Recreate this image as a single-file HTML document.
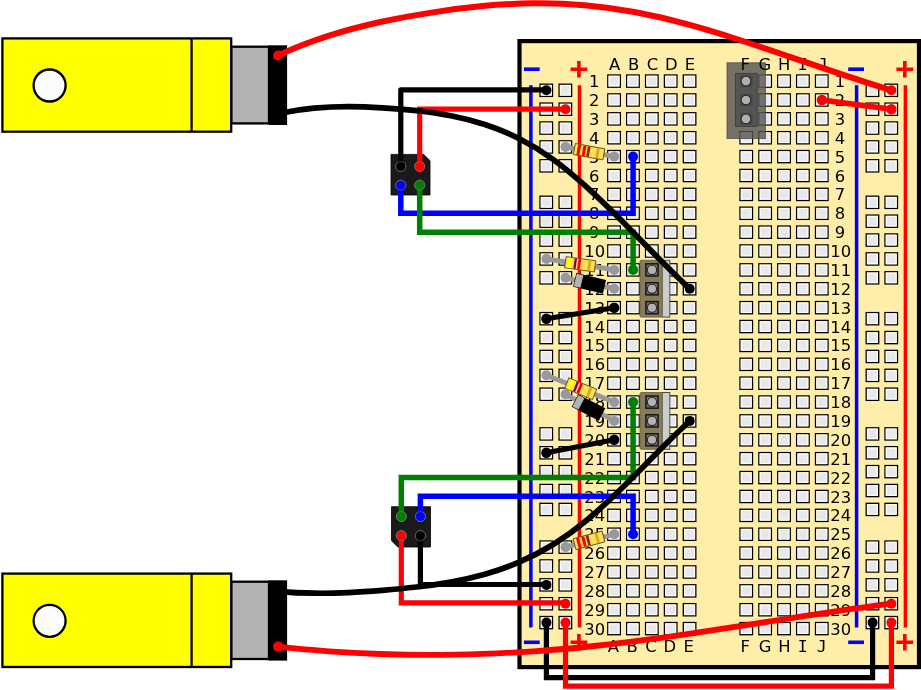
<!DOCTYPE html>
<html lang="en">
<head>
<meta charset="utf-8">
<title>Breadboard wiring diagram</title>
<style>
html,body{margin:0;padding:0;background:#fff;}
body{width:921px;height:690px;overflow:hidden;font-family:"DejaVu Sans","Liberation Sans",sans-serif;}
svg{display:block;will-change:transform;}
</style>
</head>
<body>
<svg width="921" height="690" viewBox="0 0 921 690">
<rect x="0" y="0" width="921" height="690" fill="#ffffff"/>
<g id="motors">
<rect x="268.6" y="45.3" width="18.5" height="79.7" fill="#000"/>
<rect x="231.2" y="46.7" width="37.8" height="76.7" fill="#b3b3b3" stroke="#000" stroke-width="2.3"/>
<rect x="2.4" y="38.4" width="228.8" height="93.3" fill="#ffff00" stroke="#000" stroke-width="2.3"/>
<line x1="191.6" y1="38.4" x2="191.6" y2="131.7" stroke="#000" stroke-width="2.3"/>
<circle cx="49.6" cy="85.5" r="16.0" fill="#fcfcfc" stroke="#000" stroke-width="2.3"/>
<rect x="268.6" y="580.3" width="18.5" height="80.3" fill="#000"/>
<rect x="231.2" y="581.7" width="37.8" height="77.3" fill="#b3b3b3" stroke="#000" stroke-width="2.3"/>
<rect x="2.4" y="573.6" width="228.8" height="93.4" fill="#ffff00" stroke="#000" stroke-width="2.3"/>
<line x1="191.6" y1="573.6" x2="191.6" y2="667.0" stroke="#000" stroke-width="2.3"/>
<circle cx="49.6" cy="620.8" r="16.0" fill="#fcfcfc" stroke="#000" stroke-width="2.3"/>
</g>
<g id="board">
<rect x="519.5" y="41.1" width="399.5" height="626" fill="#ffeeaa" stroke="#000" stroke-width="4.2"/>
<line x1="530.9" y1="85.3" x2="530.9" y2="627.4" stroke="#0000ff" stroke-width="3.5"/>
<line x1="579.5" y1="85.3" x2="579.5" y2="627.4" stroke="#ff0000" stroke-width="3.5"/>
<line x1="856.6" y1="85.3" x2="856.6" y2="627.4" stroke="#0000ff" stroke-width="3.5"/>
<line x1="905.4" y1="85.3" x2="905.4" y2="627.4" stroke="#ff0000" stroke-width="3.5"/>
<line x1="523.9" y1="69.2" x2="539.7" y2="69.2" stroke="#0000ff" stroke-width="3.6"/>
<path d="M570.5 69.2H587.3M578.9 61.0V77.4" stroke="#ff0000" stroke-width="3.6" fill="none"/>
<line x1="848.2" y1="69.2" x2="864.0" y2="69.2" stroke="#0000ff" stroke-width="3.6"/>
<path d="M896.4 69.2H913.2M904.8 61.0V77.4" stroke="#ff0000" stroke-width="3.6" fill="none"/>
<line x1="523.9" y1="642.3" x2="539.7" y2="642.3" stroke="#0000ff" stroke-width="3.6"/>
<path d="M570.5 642.3H587.3M578.9 634.1V650.5" stroke="#ff0000" stroke-width="3.6" fill="none"/>
<line x1="848.2" y1="642.3" x2="864.0" y2="642.3" stroke="#0000ff" stroke-width="3.6"/>
<path d="M896.4 642.3H913.2M904.8 634.1V650.5" stroke="#ff0000" stroke-width="3.6" fill="none"/>
<g fill="#e8e8e8" stroke="#000" stroke-width="1.35">
<rect x="607.80" y="75.00" width="12.5" height="12.2"/>
<rect x="626.68" y="75.00" width="12.5" height="12.2"/>
<rect x="645.56" y="75.00" width="12.5" height="12.2"/>
<rect x="664.44" y="75.00" width="12.5" height="12.2"/>
<rect x="683.32" y="75.00" width="12.5" height="12.2"/>
<rect x="740.00" y="75.00" width="12.5" height="12.2"/>
<rect x="758.88" y="75.00" width="12.5" height="12.2"/>
<rect x="777.76" y="75.00" width="12.5" height="12.2"/>
<rect x="796.64" y="75.00" width="12.5" height="12.2"/>
<rect x="815.52" y="75.00" width="12.5" height="12.2"/>
<rect x="607.80" y="93.88" width="12.5" height="12.2"/>
<rect x="626.68" y="93.88" width="12.5" height="12.2"/>
<rect x="645.56" y="93.88" width="12.5" height="12.2"/>
<rect x="664.44" y="93.88" width="12.5" height="12.2"/>
<rect x="683.32" y="93.88" width="12.5" height="12.2"/>
<rect x="740.00" y="93.88" width="12.5" height="12.2"/>
<rect x="758.88" y="93.88" width="12.5" height="12.2"/>
<rect x="777.76" y="93.88" width="12.5" height="12.2"/>
<rect x="796.64" y="93.88" width="12.5" height="12.2"/>
<rect x="815.52" y="93.88" width="12.5" height="12.2"/>
<rect x="607.80" y="112.76" width="12.5" height="12.2"/>
<rect x="626.68" y="112.76" width="12.5" height="12.2"/>
<rect x="645.56" y="112.76" width="12.5" height="12.2"/>
<rect x="664.44" y="112.76" width="12.5" height="12.2"/>
<rect x="683.32" y="112.76" width="12.5" height="12.2"/>
<rect x="740.00" y="112.76" width="12.5" height="12.2"/>
<rect x="758.88" y="112.76" width="12.5" height="12.2"/>
<rect x="777.76" y="112.76" width="12.5" height="12.2"/>
<rect x="796.64" y="112.76" width="12.5" height="12.2"/>
<rect x="815.52" y="112.76" width="12.5" height="12.2"/>
<rect x="607.80" y="131.64" width="12.5" height="12.2"/>
<rect x="626.68" y="131.64" width="12.5" height="12.2"/>
<rect x="645.56" y="131.64" width="12.5" height="12.2"/>
<rect x="664.44" y="131.64" width="12.5" height="12.2"/>
<rect x="683.32" y="131.64" width="12.5" height="12.2"/>
<rect x="740.00" y="131.64" width="12.5" height="12.2"/>
<rect x="758.88" y="131.64" width="12.5" height="12.2"/>
<rect x="777.76" y="131.64" width="12.5" height="12.2"/>
<rect x="796.64" y="131.64" width="12.5" height="12.2"/>
<rect x="815.52" y="131.64" width="12.5" height="12.2"/>
<rect x="607.80" y="150.52" width="12.5" height="12.2"/>
<rect x="626.68" y="150.52" width="12.5" height="12.2"/>
<rect x="645.56" y="150.52" width="12.5" height="12.2"/>
<rect x="664.44" y="150.52" width="12.5" height="12.2"/>
<rect x="683.32" y="150.52" width="12.5" height="12.2"/>
<rect x="740.00" y="150.52" width="12.5" height="12.2"/>
<rect x="758.88" y="150.52" width="12.5" height="12.2"/>
<rect x="777.76" y="150.52" width="12.5" height="12.2"/>
<rect x="796.64" y="150.52" width="12.5" height="12.2"/>
<rect x="815.52" y="150.52" width="12.5" height="12.2"/>
<rect x="607.80" y="169.40" width="12.5" height="12.2"/>
<rect x="626.68" y="169.40" width="12.5" height="12.2"/>
<rect x="645.56" y="169.40" width="12.5" height="12.2"/>
<rect x="664.44" y="169.40" width="12.5" height="12.2"/>
<rect x="683.32" y="169.40" width="12.5" height="12.2"/>
<rect x="740.00" y="169.40" width="12.5" height="12.2"/>
<rect x="758.88" y="169.40" width="12.5" height="12.2"/>
<rect x="777.76" y="169.40" width="12.5" height="12.2"/>
<rect x="796.64" y="169.40" width="12.5" height="12.2"/>
<rect x="815.52" y="169.40" width="12.5" height="12.2"/>
<rect x="607.80" y="188.28" width="12.5" height="12.2"/>
<rect x="626.68" y="188.28" width="12.5" height="12.2"/>
<rect x="645.56" y="188.28" width="12.5" height="12.2"/>
<rect x="664.44" y="188.28" width="12.5" height="12.2"/>
<rect x="683.32" y="188.28" width="12.5" height="12.2"/>
<rect x="740.00" y="188.28" width="12.5" height="12.2"/>
<rect x="758.88" y="188.28" width="12.5" height="12.2"/>
<rect x="777.76" y="188.28" width="12.5" height="12.2"/>
<rect x="796.64" y="188.28" width="12.5" height="12.2"/>
<rect x="815.52" y="188.28" width="12.5" height="12.2"/>
<rect x="607.80" y="207.16" width="12.5" height="12.2"/>
<rect x="626.68" y="207.16" width="12.5" height="12.2"/>
<rect x="645.56" y="207.16" width="12.5" height="12.2"/>
<rect x="664.44" y="207.16" width="12.5" height="12.2"/>
<rect x="683.32" y="207.16" width="12.5" height="12.2"/>
<rect x="740.00" y="207.16" width="12.5" height="12.2"/>
<rect x="758.88" y="207.16" width="12.5" height="12.2"/>
<rect x="777.76" y="207.16" width="12.5" height="12.2"/>
<rect x="796.64" y="207.16" width="12.5" height="12.2"/>
<rect x="815.52" y="207.16" width="12.5" height="12.2"/>
<rect x="607.80" y="226.04" width="12.5" height="12.2"/>
<rect x="626.68" y="226.04" width="12.5" height="12.2"/>
<rect x="645.56" y="226.04" width="12.5" height="12.2"/>
<rect x="664.44" y="226.04" width="12.5" height="12.2"/>
<rect x="683.32" y="226.04" width="12.5" height="12.2"/>
<rect x="740.00" y="226.04" width="12.5" height="12.2"/>
<rect x="758.88" y="226.04" width="12.5" height="12.2"/>
<rect x="777.76" y="226.04" width="12.5" height="12.2"/>
<rect x="796.64" y="226.04" width="12.5" height="12.2"/>
<rect x="815.52" y="226.04" width="12.5" height="12.2"/>
<rect x="607.80" y="244.92" width="12.5" height="12.2"/>
<rect x="626.68" y="244.92" width="12.5" height="12.2"/>
<rect x="645.56" y="244.92" width="12.5" height="12.2"/>
<rect x="664.44" y="244.92" width="12.5" height="12.2"/>
<rect x="683.32" y="244.92" width="12.5" height="12.2"/>
<rect x="740.00" y="244.92" width="12.5" height="12.2"/>
<rect x="758.88" y="244.92" width="12.5" height="12.2"/>
<rect x="777.76" y="244.92" width="12.5" height="12.2"/>
<rect x="796.64" y="244.92" width="12.5" height="12.2"/>
<rect x="815.52" y="244.92" width="12.5" height="12.2"/>
<rect x="607.80" y="263.80" width="12.5" height="12.2"/>
<rect x="626.68" y="263.80" width="12.5" height="12.2"/>
<rect x="645.56" y="263.80" width="12.5" height="12.2"/>
<rect x="664.44" y="263.80" width="12.5" height="12.2"/>
<rect x="683.32" y="263.80" width="12.5" height="12.2"/>
<rect x="740.00" y="263.80" width="12.5" height="12.2"/>
<rect x="758.88" y="263.80" width="12.5" height="12.2"/>
<rect x="777.76" y="263.80" width="12.5" height="12.2"/>
<rect x="796.64" y="263.80" width="12.5" height="12.2"/>
<rect x="815.52" y="263.80" width="12.5" height="12.2"/>
<rect x="607.80" y="282.68" width="12.5" height="12.2"/>
<rect x="626.68" y="282.68" width="12.5" height="12.2"/>
<rect x="645.56" y="282.68" width="12.5" height="12.2"/>
<rect x="664.44" y="282.68" width="12.5" height="12.2"/>
<rect x="683.32" y="282.68" width="12.5" height="12.2"/>
<rect x="740.00" y="282.68" width="12.5" height="12.2"/>
<rect x="758.88" y="282.68" width="12.5" height="12.2"/>
<rect x="777.76" y="282.68" width="12.5" height="12.2"/>
<rect x="796.64" y="282.68" width="12.5" height="12.2"/>
<rect x="815.52" y="282.68" width="12.5" height="12.2"/>
<rect x="607.80" y="301.56" width="12.5" height="12.2"/>
<rect x="626.68" y="301.56" width="12.5" height="12.2"/>
<rect x="645.56" y="301.56" width="12.5" height="12.2"/>
<rect x="664.44" y="301.56" width="12.5" height="12.2"/>
<rect x="683.32" y="301.56" width="12.5" height="12.2"/>
<rect x="740.00" y="301.56" width="12.5" height="12.2"/>
<rect x="758.88" y="301.56" width="12.5" height="12.2"/>
<rect x="777.76" y="301.56" width="12.5" height="12.2"/>
<rect x="796.64" y="301.56" width="12.5" height="12.2"/>
<rect x="815.52" y="301.56" width="12.5" height="12.2"/>
<rect x="607.80" y="320.44" width="12.5" height="12.2"/>
<rect x="626.68" y="320.44" width="12.5" height="12.2"/>
<rect x="645.56" y="320.44" width="12.5" height="12.2"/>
<rect x="664.44" y="320.44" width="12.5" height="12.2"/>
<rect x="683.32" y="320.44" width="12.5" height="12.2"/>
<rect x="740.00" y="320.44" width="12.5" height="12.2"/>
<rect x="758.88" y="320.44" width="12.5" height="12.2"/>
<rect x="777.76" y="320.44" width="12.5" height="12.2"/>
<rect x="796.64" y="320.44" width="12.5" height="12.2"/>
<rect x="815.52" y="320.44" width="12.5" height="12.2"/>
<rect x="607.80" y="339.32" width="12.5" height="12.2"/>
<rect x="626.68" y="339.32" width="12.5" height="12.2"/>
<rect x="645.56" y="339.32" width="12.5" height="12.2"/>
<rect x="664.44" y="339.32" width="12.5" height="12.2"/>
<rect x="683.32" y="339.32" width="12.5" height="12.2"/>
<rect x="740.00" y="339.32" width="12.5" height="12.2"/>
<rect x="758.88" y="339.32" width="12.5" height="12.2"/>
<rect x="777.76" y="339.32" width="12.5" height="12.2"/>
<rect x="796.64" y="339.32" width="12.5" height="12.2"/>
<rect x="815.52" y="339.32" width="12.5" height="12.2"/>
<rect x="607.80" y="358.20" width="12.5" height="12.2"/>
<rect x="626.68" y="358.20" width="12.5" height="12.2"/>
<rect x="645.56" y="358.20" width="12.5" height="12.2"/>
<rect x="664.44" y="358.20" width="12.5" height="12.2"/>
<rect x="683.32" y="358.20" width="12.5" height="12.2"/>
<rect x="740.00" y="358.20" width="12.5" height="12.2"/>
<rect x="758.88" y="358.20" width="12.5" height="12.2"/>
<rect x="777.76" y="358.20" width="12.5" height="12.2"/>
<rect x="796.64" y="358.20" width="12.5" height="12.2"/>
<rect x="815.52" y="358.20" width="12.5" height="12.2"/>
<rect x="607.80" y="377.08" width="12.5" height="12.2"/>
<rect x="626.68" y="377.08" width="12.5" height="12.2"/>
<rect x="645.56" y="377.08" width="12.5" height="12.2"/>
<rect x="664.44" y="377.08" width="12.5" height="12.2"/>
<rect x="683.32" y="377.08" width="12.5" height="12.2"/>
<rect x="740.00" y="377.08" width="12.5" height="12.2"/>
<rect x="758.88" y="377.08" width="12.5" height="12.2"/>
<rect x="777.76" y="377.08" width="12.5" height="12.2"/>
<rect x="796.64" y="377.08" width="12.5" height="12.2"/>
<rect x="815.52" y="377.08" width="12.5" height="12.2"/>
<rect x="607.80" y="395.96" width="12.5" height="12.2"/>
<rect x="626.68" y="395.96" width="12.5" height="12.2"/>
<rect x="645.56" y="395.96" width="12.5" height="12.2"/>
<rect x="664.44" y="395.96" width="12.5" height="12.2"/>
<rect x="683.32" y="395.96" width="12.5" height="12.2"/>
<rect x="740.00" y="395.96" width="12.5" height="12.2"/>
<rect x="758.88" y="395.96" width="12.5" height="12.2"/>
<rect x="777.76" y="395.96" width="12.5" height="12.2"/>
<rect x="796.64" y="395.96" width="12.5" height="12.2"/>
<rect x="815.52" y="395.96" width="12.5" height="12.2"/>
<rect x="607.80" y="414.84" width="12.5" height="12.2"/>
<rect x="626.68" y="414.84" width="12.5" height="12.2"/>
<rect x="645.56" y="414.84" width="12.5" height="12.2"/>
<rect x="664.44" y="414.84" width="12.5" height="12.2"/>
<rect x="683.32" y="414.84" width="12.5" height="12.2"/>
<rect x="740.00" y="414.84" width="12.5" height="12.2"/>
<rect x="758.88" y="414.84" width="12.5" height="12.2"/>
<rect x="777.76" y="414.84" width="12.5" height="12.2"/>
<rect x="796.64" y="414.84" width="12.5" height="12.2"/>
<rect x="815.52" y="414.84" width="12.5" height="12.2"/>
<rect x="607.80" y="433.72" width="12.5" height="12.2"/>
<rect x="626.68" y="433.72" width="12.5" height="12.2"/>
<rect x="645.56" y="433.72" width="12.5" height="12.2"/>
<rect x="664.44" y="433.72" width="12.5" height="12.2"/>
<rect x="683.32" y="433.72" width="12.5" height="12.2"/>
<rect x="740.00" y="433.72" width="12.5" height="12.2"/>
<rect x="758.88" y="433.72" width="12.5" height="12.2"/>
<rect x="777.76" y="433.72" width="12.5" height="12.2"/>
<rect x="796.64" y="433.72" width="12.5" height="12.2"/>
<rect x="815.52" y="433.72" width="12.5" height="12.2"/>
<rect x="607.80" y="452.60" width="12.5" height="12.2"/>
<rect x="626.68" y="452.60" width="12.5" height="12.2"/>
<rect x="645.56" y="452.60" width="12.5" height="12.2"/>
<rect x="664.44" y="452.60" width="12.5" height="12.2"/>
<rect x="683.32" y="452.60" width="12.5" height="12.2"/>
<rect x="740.00" y="452.60" width="12.5" height="12.2"/>
<rect x="758.88" y="452.60" width="12.5" height="12.2"/>
<rect x="777.76" y="452.60" width="12.5" height="12.2"/>
<rect x="796.64" y="452.60" width="12.5" height="12.2"/>
<rect x="815.52" y="452.60" width="12.5" height="12.2"/>
<rect x="607.80" y="471.48" width="12.5" height="12.2"/>
<rect x="626.68" y="471.48" width="12.5" height="12.2"/>
<rect x="645.56" y="471.48" width="12.5" height="12.2"/>
<rect x="664.44" y="471.48" width="12.5" height="12.2"/>
<rect x="683.32" y="471.48" width="12.5" height="12.2"/>
<rect x="740.00" y="471.48" width="12.5" height="12.2"/>
<rect x="758.88" y="471.48" width="12.5" height="12.2"/>
<rect x="777.76" y="471.48" width="12.5" height="12.2"/>
<rect x="796.64" y="471.48" width="12.5" height="12.2"/>
<rect x="815.52" y="471.48" width="12.5" height="12.2"/>
<rect x="607.80" y="490.36" width="12.5" height="12.2"/>
<rect x="626.68" y="490.36" width="12.5" height="12.2"/>
<rect x="645.56" y="490.36" width="12.5" height="12.2"/>
<rect x="664.44" y="490.36" width="12.5" height="12.2"/>
<rect x="683.32" y="490.36" width="12.5" height="12.2"/>
<rect x="740.00" y="490.36" width="12.5" height="12.2"/>
<rect x="758.88" y="490.36" width="12.5" height="12.2"/>
<rect x="777.76" y="490.36" width="12.5" height="12.2"/>
<rect x="796.64" y="490.36" width="12.5" height="12.2"/>
<rect x="815.52" y="490.36" width="12.5" height="12.2"/>
<rect x="607.80" y="509.24" width="12.5" height="12.2"/>
<rect x="626.68" y="509.24" width="12.5" height="12.2"/>
<rect x="645.56" y="509.24" width="12.5" height="12.2"/>
<rect x="664.44" y="509.24" width="12.5" height="12.2"/>
<rect x="683.32" y="509.24" width="12.5" height="12.2"/>
<rect x="740.00" y="509.24" width="12.5" height="12.2"/>
<rect x="758.88" y="509.24" width="12.5" height="12.2"/>
<rect x="777.76" y="509.24" width="12.5" height="12.2"/>
<rect x="796.64" y="509.24" width="12.5" height="12.2"/>
<rect x="815.52" y="509.24" width="12.5" height="12.2"/>
<rect x="607.80" y="528.12" width="12.5" height="12.2"/>
<rect x="626.68" y="528.12" width="12.5" height="12.2"/>
<rect x="645.56" y="528.12" width="12.5" height="12.2"/>
<rect x="664.44" y="528.12" width="12.5" height="12.2"/>
<rect x="683.32" y="528.12" width="12.5" height="12.2"/>
<rect x="740.00" y="528.12" width="12.5" height="12.2"/>
<rect x="758.88" y="528.12" width="12.5" height="12.2"/>
<rect x="777.76" y="528.12" width="12.5" height="12.2"/>
<rect x="796.64" y="528.12" width="12.5" height="12.2"/>
<rect x="815.52" y="528.12" width="12.5" height="12.2"/>
<rect x="607.80" y="547.00" width="12.5" height="12.2"/>
<rect x="626.68" y="547.00" width="12.5" height="12.2"/>
<rect x="645.56" y="547.00" width="12.5" height="12.2"/>
<rect x="664.44" y="547.00" width="12.5" height="12.2"/>
<rect x="683.32" y="547.00" width="12.5" height="12.2"/>
<rect x="740.00" y="547.00" width="12.5" height="12.2"/>
<rect x="758.88" y="547.00" width="12.5" height="12.2"/>
<rect x="777.76" y="547.00" width="12.5" height="12.2"/>
<rect x="796.64" y="547.00" width="12.5" height="12.2"/>
<rect x="815.52" y="547.00" width="12.5" height="12.2"/>
<rect x="607.80" y="565.88" width="12.5" height="12.2"/>
<rect x="626.68" y="565.88" width="12.5" height="12.2"/>
<rect x="645.56" y="565.88" width="12.5" height="12.2"/>
<rect x="664.44" y="565.88" width="12.5" height="12.2"/>
<rect x="683.32" y="565.88" width="12.5" height="12.2"/>
<rect x="740.00" y="565.88" width="12.5" height="12.2"/>
<rect x="758.88" y="565.88" width="12.5" height="12.2"/>
<rect x="777.76" y="565.88" width="12.5" height="12.2"/>
<rect x="796.64" y="565.88" width="12.5" height="12.2"/>
<rect x="815.52" y="565.88" width="12.5" height="12.2"/>
<rect x="607.80" y="584.76" width="12.5" height="12.2"/>
<rect x="626.68" y="584.76" width="12.5" height="12.2"/>
<rect x="645.56" y="584.76" width="12.5" height="12.2"/>
<rect x="664.44" y="584.76" width="12.5" height="12.2"/>
<rect x="683.32" y="584.76" width="12.5" height="12.2"/>
<rect x="740.00" y="584.76" width="12.5" height="12.2"/>
<rect x="758.88" y="584.76" width="12.5" height="12.2"/>
<rect x="777.76" y="584.76" width="12.5" height="12.2"/>
<rect x="796.64" y="584.76" width="12.5" height="12.2"/>
<rect x="815.52" y="584.76" width="12.5" height="12.2"/>
<rect x="607.80" y="603.64" width="12.5" height="12.2"/>
<rect x="626.68" y="603.64" width="12.5" height="12.2"/>
<rect x="645.56" y="603.64" width="12.5" height="12.2"/>
<rect x="664.44" y="603.64" width="12.5" height="12.2"/>
<rect x="683.32" y="603.64" width="12.5" height="12.2"/>
<rect x="740.00" y="603.64" width="12.5" height="12.2"/>
<rect x="758.88" y="603.64" width="12.5" height="12.2"/>
<rect x="777.76" y="603.64" width="12.5" height="12.2"/>
<rect x="796.64" y="603.64" width="12.5" height="12.2"/>
<rect x="815.52" y="603.64" width="12.5" height="12.2"/>
<rect x="607.80" y="622.52" width="12.5" height="12.2"/>
<rect x="626.68" y="622.52" width="12.5" height="12.2"/>
<rect x="645.56" y="622.52" width="12.5" height="12.2"/>
<rect x="664.44" y="622.52" width="12.5" height="12.2"/>
<rect x="683.32" y="622.52" width="12.5" height="12.2"/>
<rect x="740.00" y="622.52" width="12.5" height="12.2"/>
<rect x="758.88" y="622.52" width="12.5" height="12.2"/>
<rect x="777.76" y="622.52" width="12.5" height="12.2"/>
<rect x="796.64" y="622.52" width="12.5" height="12.2"/>
<rect x="815.52" y="622.52" width="12.5" height="12.2"/>
<rect x="540.00" y="84.20" width="12.5" height="12.2"/>
<rect x="559.10" y="84.20" width="12.5" height="12.2"/>
<rect x="866.20" y="84.20" width="12.5" height="12.2"/>
<rect x="885.00" y="84.20" width="12.5" height="12.2"/>
<rect x="540.00" y="103.08" width="12.5" height="12.2"/>
<rect x="559.10" y="103.08" width="12.5" height="12.2"/>
<rect x="866.20" y="103.08" width="12.5" height="12.2"/>
<rect x="885.00" y="103.08" width="12.5" height="12.2"/>
<rect x="540.00" y="121.96" width="12.5" height="12.2"/>
<rect x="559.10" y="121.96" width="12.5" height="12.2"/>
<rect x="866.20" y="121.96" width="12.5" height="12.2"/>
<rect x="885.00" y="121.96" width="12.5" height="12.2"/>
<rect x="540.00" y="140.84" width="12.5" height="12.2"/>
<rect x="559.10" y="140.84" width="12.5" height="12.2"/>
<rect x="866.20" y="140.84" width="12.5" height="12.2"/>
<rect x="885.00" y="140.84" width="12.5" height="12.2"/>
<rect x="540.00" y="159.72" width="12.5" height="12.2"/>
<rect x="559.10" y="159.72" width="12.5" height="12.2"/>
<rect x="866.20" y="159.72" width="12.5" height="12.2"/>
<rect x="885.00" y="159.72" width="12.5" height="12.2"/>
<rect x="540.00" y="196.20" width="12.5" height="12.2"/>
<rect x="559.10" y="196.20" width="12.5" height="12.2"/>
<rect x="866.20" y="196.20" width="12.5" height="12.2"/>
<rect x="885.00" y="196.20" width="12.5" height="12.2"/>
<rect x="540.00" y="215.08" width="12.5" height="12.2"/>
<rect x="559.10" y="215.08" width="12.5" height="12.2"/>
<rect x="866.20" y="215.08" width="12.5" height="12.2"/>
<rect x="885.00" y="215.08" width="12.5" height="12.2"/>
<rect x="540.00" y="233.96" width="12.5" height="12.2"/>
<rect x="559.10" y="233.96" width="12.5" height="12.2"/>
<rect x="866.20" y="233.96" width="12.5" height="12.2"/>
<rect x="885.00" y="233.96" width="12.5" height="12.2"/>
<rect x="540.00" y="252.84" width="12.5" height="12.2"/>
<rect x="559.10" y="252.84" width="12.5" height="12.2"/>
<rect x="866.20" y="252.84" width="12.5" height="12.2"/>
<rect x="885.00" y="252.84" width="12.5" height="12.2"/>
<rect x="540.00" y="271.72" width="12.5" height="12.2"/>
<rect x="559.10" y="271.72" width="12.5" height="12.2"/>
<rect x="866.20" y="271.72" width="12.5" height="12.2"/>
<rect x="885.00" y="271.72" width="12.5" height="12.2"/>
<rect x="540.00" y="312.60" width="12.5" height="12.2"/>
<rect x="559.10" y="312.60" width="12.5" height="12.2"/>
<rect x="866.20" y="312.60" width="12.5" height="12.2"/>
<rect x="885.00" y="312.60" width="12.5" height="12.2"/>
<rect x="540.00" y="331.48" width="12.5" height="12.2"/>
<rect x="559.10" y="331.48" width="12.5" height="12.2"/>
<rect x="866.20" y="331.48" width="12.5" height="12.2"/>
<rect x="885.00" y="331.48" width="12.5" height="12.2"/>
<rect x="540.00" y="350.36" width="12.5" height="12.2"/>
<rect x="559.10" y="350.36" width="12.5" height="12.2"/>
<rect x="866.20" y="350.36" width="12.5" height="12.2"/>
<rect x="885.00" y="350.36" width="12.5" height="12.2"/>
<rect x="540.00" y="369.24" width="12.5" height="12.2"/>
<rect x="559.10" y="369.24" width="12.5" height="12.2"/>
<rect x="866.20" y="369.24" width="12.5" height="12.2"/>
<rect x="885.00" y="369.24" width="12.5" height="12.2"/>
<rect x="540.00" y="388.12" width="12.5" height="12.2"/>
<rect x="559.10" y="388.12" width="12.5" height="12.2"/>
<rect x="866.20" y="388.12" width="12.5" height="12.2"/>
<rect x="885.00" y="388.12" width="12.5" height="12.2"/>
<rect x="540.00" y="427.80" width="12.5" height="12.2"/>
<rect x="559.10" y="427.80" width="12.5" height="12.2"/>
<rect x="866.20" y="427.80" width="12.5" height="12.2"/>
<rect x="885.00" y="427.80" width="12.5" height="12.2"/>
<rect x="540.00" y="446.68" width="12.5" height="12.2"/>
<rect x="559.10" y="446.68" width="12.5" height="12.2"/>
<rect x="866.20" y="446.68" width="12.5" height="12.2"/>
<rect x="885.00" y="446.68" width="12.5" height="12.2"/>
<rect x="540.00" y="465.56" width="12.5" height="12.2"/>
<rect x="559.10" y="465.56" width="12.5" height="12.2"/>
<rect x="866.20" y="465.56" width="12.5" height="12.2"/>
<rect x="885.00" y="465.56" width="12.5" height="12.2"/>
<rect x="540.00" y="484.44" width="12.5" height="12.2"/>
<rect x="559.10" y="484.44" width="12.5" height="12.2"/>
<rect x="866.20" y="484.44" width="12.5" height="12.2"/>
<rect x="885.00" y="484.44" width="12.5" height="12.2"/>
<rect x="540.00" y="503.32" width="12.5" height="12.2"/>
<rect x="559.10" y="503.32" width="12.5" height="12.2"/>
<rect x="866.20" y="503.32" width="12.5" height="12.2"/>
<rect x="885.00" y="503.32" width="12.5" height="12.2"/>
<rect x="540.00" y="541.00" width="12.5" height="12.2"/>
<rect x="559.10" y="541.00" width="12.5" height="12.2"/>
<rect x="866.20" y="541.00" width="12.5" height="12.2"/>
<rect x="885.00" y="541.00" width="12.5" height="12.2"/>
<rect x="540.00" y="559.88" width="12.5" height="12.2"/>
<rect x="559.10" y="559.88" width="12.5" height="12.2"/>
<rect x="866.20" y="559.88" width="12.5" height="12.2"/>
<rect x="885.00" y="559.88" width="12.5" height="12.2"/>
<rect x="540.00" y="578.76" width="12.5" height="12.2"/>
<rect x="559.10" y="578.76" width="12.5" height="12.2"/>
<rect x="866.20" y="578.76" width="12.5" height="12.2"/>
<rect x="885.00" y="578.76" width="12.5" height="12.2"/>
<rect x="540.00" y="597.64" width="12.5" height="12.2"/>
<rect x="559.10" y="597.64" width="12.5" height="12.2"/>
<rect x="866.20" y="597.64" width="12.5" height="12.2"/>
<rect x="885.00" y="597.64" width="12.5" height="12.2"/>
<rect x="540.00" y="616.52" width="12.5" height="12.2"/>
<rect x="559.10" y="616.52" width="12.5" height="12.2"/>
<rect x="866.20" y="616.52" width="12.5" height="12.2"/>
<rect x="885.00" y="616.52" width="12.5" height="12.2"/>
</g>
<g fill="none" stroke="#ffffff" stroke-width="1.2" stroke-opacity="0.85">
<rect x="609.10" y="76.30" width="9.9" height="9.6"/>
<rect x="627.98" y="76.30" width="9.9" height="9.6"/>
<rect x="646.86" y="76.30" width="9.9" height="9.6"/>
<rect x="665.74" y="76.30" width="9.9" height="9.6"/>
<rect x="684.62" y="76.30" width="9.9" height="9.6"/>
<rect x="741.30" y="76.30" width="9.9" height="9.6"/>
<rect x="760.18" y="76.30" width="9.9" height="9.6"/>
<rect x="779.06" y="76.30" width="9.9" height="9.6"/>
<rect x="797.94" y="76.30" width="9.9" height="9.6"/>
<rect x="816.82" y="76.30" width="9.9" height="9.6"/>
<rect x="609.10" y="95.18" width="9.9" height="9.6"/>
<rect x="627.98" y="95.18" width="9.9" height="9.6"/>
<rect x="646.86" y="95.18" width="9.9" height="9.6"/>
<rect x="665.74" y="95.18" width="9.9" height="9.6"/>
<rect x="684.62" y="95.18" width="9.9" height="9.6"/>
<rect x="741.30" y="95.18" width="9.9" height="9.6"/>
<rect x="760.18" y="95.18" width="9.9" height="9.6"/>
<rect x="779.06" y="95.18" width="9.9" height="9.6"/>
<rect x="797.94" y="95.18" width="9.9" height="9.6"/>
<rect x="816.82" y="95.18" width="9.9" height="9.6"/>
<rect x="609.10" y="114.06" width="9.9" height="9.6"/>
<rect x="627.98" y="114.06" width="9.9" height="9.6"/>
<rect x="646.86" y="114.06" width="9.9" height="9.6"/>
<rect x="665.74" y="114.06" width="9.9" height="9.6"/>
<rect x="684.62" y="114.06" width="9.9" height="9.6"/>
<rect x="741.30" y="114.06" width="9.9" height="9.6"/>
<rect x="760.18" y="114.06" width="9.9" height="9.6"/>
<rect x="779.06" y="114.06" width="9.9" height="9.6"/>
<rect x="797.94" y="114.06" width="9.9" height="9.6"/>
<rect x="816.82" y="114.06" width="9.9" height="9.6"/>
<rect x="609.10" y="132.94" width="9.9" height="9.6"/>
<rect x="627.98" y="132.94" width="9.9" height="9.6"/>
<rect x="646.86" y="132.94" width="9.9" height="9.6"/>
<rect x="665.74" y="132.94" width="9.9" height="9.6"/>
<rect x="684.62" y="132.94" width="9.9" height="9.6"/>
<rect x="741.30" y="132.94" width="9.9" height="9.6"/>
<rect x="760.18" y="132.94" width="9.9" height="9.6"/>
<rect x="779.06" y="132.94" width="9.9" height="9.6"/>
<rect x="797.94" y="132.94" width="9.9" height="9.6"/>
<rect x="816.82" y="132.94" width="9.9" height="9.6"/>
<rect x="609.10" y="151.82" width="9.9" height="9.6"/>
<rect x="627.98" y="151.82" width="9.9" height="9.6"/>
<rect x="646.86" y="151.82" width="9.9" height="9.6"/>
<rect x="665.74" y="151.82" width="9.9" height="9.6"/>
<rect x="684.62" y="151.82" width="9.9" height="9.6"/>
<rect x="741.30" y="151.82" width="9.9" height="9.6"/>
<rect x="760.18" y="151.82" width="9.9" height="9.6"/>
<rect x="779.06" y="151.82" width="9.9" height="9.6"/>
<rect x="797.94" y="151.82" width="9.9" height="9.6"/>
<rect x="816.82" y="151.82" width="9.9" height="9.6"/>
<rect x="609.10" y="170.70" width="9.9" height="9.6"/>
<rect x="627.98" y="170.70" width="9.9" height="9.6"/>
<rect x="646.86" y="170.70" width="9.9" height="9.6"/>
<rect x="665.74" y="170.70" width="9.9" height="9.6"/>
<rect x="684.62" y="170.70" width="9.9" height="9.6"/>
<rect x="741.30" y="170.70" width="9.9" height="9.6"/>
<rect x="760.18" y="170.70" width="9.9" height="9.6"/>
<rect x="779.06" y="170.70" width="9.9" height="9.6"/>
<rect x="797.94" y="170.70" width="9.9" height="9.6"/>
<rect x="816.82" y="170.70" width="9.9" height="9.6"/>
<rect x="609.10" y="189.58" width="9.9" height="9.6"/>
<rect x="627.98" y="189.58" width="9.9" height="9.6"/>
<rect x="646.86" y="189.58" width="9.9" height="9.6"/>
<rect x="665.74" y="189.58" width="9.9" height="9.6"/>
<rect x="684.62" y="189.58" width="9.9" height="9.6"/>
<rect x="741.30" y="189.58" width="9.9" height="9.6"/>
<rect x="760.18" y="189.58" width="9.9" height="9.6"/>
<rect x="779.06" y="189.58" width="9.9" height="9.6"/>
<rect x="797.94" y="189.58" width="9.9" height="9.6"/>
<rect x="816.82" y="189.58" width="9.9" height="9.6"/>
<rect x="609.10" y="208.46" width="9.9" height="9.6"/>
<rect x="627.98" y="208.46" width="9.9" height="9.6"/>
<rect x="646.86" y="208.46" width="9.9" height="9.6"/>
<rect x="665.74" y="208.46" width="9.9" height="9.6"/>
<rect x="684.62" y="208.46" width="9.9" height="9.6"/>
<rect x="741.30" y="208.46" width="9.9" height="9.6"/>
<rect x="760.18" y="208.46" width="9.9" height="9.6"/>
<rect x="779.06" y="208.46" width="9.9" height="9.6"/>
<rect x="797.94" y="208.46" width="9.9" height="9.6"/>
<rect x="816.82" y="208.46" width="9.9" height="9.6"/>
<rect x="609.10" y="227.34" width="9.9" height="9.6"/>
<rect x="627.98" y="227.34" width="9.9" height="9.6"/>
<rect x="646.86" y="227.34" width="9.9" height="9.6"/>
<rect x="665.74" y="227.34" width="9.9" height="9.6"/>
<rect x="684.62" y="227.34" width="9.9" height="9.6"/>
<rect x="741.30" y="227.34" width="9.9" height="9.6"/>
<rect x="760.18" y="227.34" width="9.9" height="9.6"/>
<rect x="779.06" y="227.34" width="9.9" height="9.6"/>
<rect x="797.94" y="227.34" width="9.9" height="9.6"/>
<rect x="816.82" y="227.34" width="9.9" height="9.6"/>
<rect x="609.10" y="246.22" width="9.9" height="9.6"/>
<rect x="627.98" y="246.22" width="9.9" height="9.6"/>
<rect x="646.86" y="246.22" width="9.9" height="9.6"/>
<rect x="665.74" y="246.22" width="9.9" height="9.6"/>
<rect x="684.62" y="246.22" width="9.9" height="9.6"/>
<rect x="741.30" y="246.22" width="9.9" height="9.6"/>
<rect x="760.18" y="246.22" width="9.9" height="9.6"/>
<rect x="779.06" y="246.22" width="9.9" height="9.6"/>
<rect x="797.94" y="246.22" width="9.9" height="9.6"/>
<rect x="816.82" y="246.22" width="9.9" height="9.6"/>
<rect x="609.10" y="265.10" width="9.9" height="9.6"/>
<rect x="627.98" y="265.10" width="9.9" height="9.6"/>
<rect x="646.86" y="265.10" width="9.9" height="9.6"/>
<rect x="665.74" y="265.10" width="9.9" height="9.6"/>
<rect x="684.62" y="265.10" width="9.9" height="9.6"/>
<rect x="741.30" y="265.10" width="9.9" height="9.6"/>
<rect x="760.18" y="265.10" width="9.9" height="9.6"/>
<rect x="779.06" y="265.10" width="9.9" height="9.6"/>
<rect x="797.94" y="265.10" width="9.9" height="9.6"/>
<rect x="816.82" y="265.10" width="9.9" height="9.6"/>
<rect x="609.10" y="283.98" width="9.9" height="9.6"/>
<rect x="627.98" y="283.98" width="9.9" height="9.6"/>
<rect x="646.86" y="283.98" width="9.9" height="9.6"/>
<rect x="665.74" y="283.98" width="9.9" height="9.6"/>
<rect x="684.62" y="283.98" width="9.9" height="9.6"/>
<rect x="741.30" y="283.98" width="9.9" height="9.6"/>
<rect x="760.18" y="283.98" width="9.9" height="9.6"/>
<rect x="779.06" y="283.98" width="9.9" height="9.6"/>
<rect x="797.94" y="283.98" width="9.9" height="9.6"/>
<rect x="816.82" y="283.98" width="9.9" height="9.6"/>
<rect x="609.10" y="302.86" width="9.9" height="9.6"/>
<rect x="627.98" y="302.86" width="9.9" height="9.6"/>
<rect x="646.86" y="302.86" width="9.9" height="9.6"/>
<rect x="665.74" y="302.86" width="9.9" height="9.6"/>
<rect x="684.62" y="302.86" width="9.9" height="9.6"/>
<rect x="741.30" y="302.86" width="9.9" height="9.6"/>
<rect x="760.18" y="302.86" width="9.9" height="9.6"/>
<rect x="779.06" y="302.86" width="9.9" height="9.6"/>
<rect x="797.94" y="302.86" width="9.9" height="9.6"/>
<rect x="816.82" y="302.86" width="9.9" height="9.6"/>
<rect x="609.10" y="321.74" width="9.9" height="9.6"/>
<rect x="627.98" y="321.74" width="9.9" height="9.6"/>
<rect x="646.86" y="321.74" width="9.9" height="9.6"/>
<rect x="665.74" y="321.74" width="9.9" height="9.6"/>
<rect x="684.62" y="321.74" width="9.9" height="9.6"/>
<rect x="741.30" y="321.74" width="9.9" height="9.6"/>
<rect x="760.18" y="321.74" width="9.9" height="9.6"/>
<rect x="779.06" y="321.74" width="9.9" height="9.6"/>
<rect x="797.94" y="321.74" width="9.9" height="9.6"/>
<rect x="816.82" y="321.74" width="9.9" height="9.6"/>
<rect x="609.10" y="340.62" width="9.9" height="9.6"/>
<rect x="627.98" y="340.62" width="9.9" height="9.6"/>
<rect x="646.86" y="340.62" width="9.9" height="9.6"/>
<rect x="665.74" y="340.62" width="9.9" height="9.6"/>
<rect x="684.62" y="340.62" width="9.9" height="9.6"/>
<rect x="741.30" y="340.62" width="9.9" height="9.6"/>
<rect x="760.18" y="340.62" width="9.9" height="9.6"/>
<rect x="779.06" y="340.62" width="9.9" height="9.6"/>
<rect x="797.94" y="340.62" width="9.9" height="9.6"/>
<rect x="816.82" y="340.62" width="9.9" height="9.6"/>
<rect x="609.10" y="359.50" width="9.9" height="9.6"/>
<rect x="627.98" y="359.50" width="9.9" height="9.6"/>
<rect x="646.86" y="359.50" width="9.9" height="9.6"/>
<rect x="665.74" y="359.50" width="9.9" height="9.6"/>
<rect x="684.62" y="359.50" width="9.9" height="9.6"/>
<rect x="741.30" y="359.50" width="9.9" height="9.6"/>
<rect x="760.18" y="359.50" width="9.9" height="9.6"/>
<rect x="779.06" y="359.50" width="9.9" height="9.6"/>
<rect x="797.94" y="359.50" width="9.9" height="9.6"/>
<rect x="816.82" y="359.50" width="9.9" height="9.6"/>
<rect x="609.10" y="378.38" width="9.9" height="9.6"/>
<rect x="627.98" y="378.38" width="9.9" height="9.6"/>
<rect x="646.86" y="378.38" width="9.9" height="9.6"/>
<rect x="665.74" y="378.38" width="9.9" height="9.6"/>
<rect x="684.62" y="378.38" width="9.9" height="9.6"/>
<rect x="741.30" y="378.38" width="9.9" height="9.6"/>
<rect x="760.18" y="378.38" width="9.9" height="9.6"/>
<rect x="779.06" y="378.38" width="9.9" height="9.6"/>
<rect x="797.94" y="378.38" width="9.9" height="9.6"/>
<rect x="816.82" y="378.38" width="9.9" height="9.6"/>
<rect x="609.10" y="397.26" width="9.9" height="9.6"/>
<rect x="627.98" y="397.26" width="9.9" height="9.6"/>
<rect x="646.86" y="397.26" width="9.9" height="9.6"/>
<rect x="665.74" y="397.26" width="9.9" height="9.6"/>
<rect x="684.62" y="397.26" width="9.9" height="9.6"/>
<rect x="741.30" y="397.26" width="9.9" height="9.6"/>
<rect x="760.18" y="397.26" width="9.9" height="9.6"/>
<rect x="779.06" y="397.26" width="9.9" height="9.6"/>
<rect x="797.94" y="397.26" width="9.9" height="9.6"/>
<rect x="816.82" y="397.26" width="9.9" height="9.6"/>
<rect x="609.10" y="416.14" width="9.9" height="9.6"/>
<rect x="627.98" y="416.14" width="9.9" height="9.6"/>
<rect x="646.86" y="416.14" width="9.9" height="9.6"/>
<rect x="665.74" y="416.14" width="9.9" height="9.6"/>
<rect x="684.62" y="416.14" width="9.9" height="9.6"/>
<rect x="741.30" y="416.14" width="9.9" height="9.6"/>
<rect x="760.18" y="416.14" width="9.9" height="9.6"/>
<rect x="779.06" y="416.14" width="9.9" height="9.6"/>
<rect x="797.94" y="416.14" width="9.9" height="9.6"/>
<rect x="816.82" y="416.14" width="9.9" height="9.6"/>
<rect x="609.10" y="435.02" width="9.9" height="9.6"/>
<rect x="627.98" y="435.02" width="9.9" height="9.6"/>
<rect x="646.86" y="435.02" width="9.9" height="9.6"/>
<rect x="665.74" y="435.02" width="9.9" height="9.6"/>
<rect x="684.62" y="435.02" width="9.9" height="9.6"/>
<rect x="741.30" y="435.02" width="9.9" height="9.6"/>
<rect x="760.18" y="435.02" width="9.9" height="9.6"/>
<rect x="779.06" y="435.02" width="9.9" height="9.6"/>
<rect x="797.94" y="435.02" width="9.9" height="9.6"/>
<rect x="816.82" y="435.02" width="9.9" height="9.6"/>
<rect x="609.10" y="453.90" width="9.9" height="9.6"/>
<rect x="627.98" y="453.90" width="9.9" height="9.6"/>
<rect x="646.86" y="453.90" width="9.9" height="9.6"/>
<rect x="665.74" y="453.90" width="9.9" height="9.6"/>
<rect x="684.62" y="453.90" width="9.9" height="9.6"/>
<rect x="741.30" y="453.90" width="9.9" height="9.6"/>
<rect x="760.18" y="453.90" width="9.9" height="9.6"/>
<rect x="779.06" y="453.90" width="9.9" height="9.6"/>
<rect x="797.94" y="453.90" width="9.9" height="9.6"/>
<rect x="816.82" y="453.90" width="9.9" height="9.6"/>
<rect x="609.10" y="472.78" width="9.9" height="9.6"/>
<rect x="627.98" y="472.78" width="9.9" height="9.6"/>
<rect x="646.86" y="472.78" width="9.9" height="9.6"/>
<rect x="665.74" y="472.78" width="9.9" height="9.6"/>
<rect x="684.62" y="472.78" width="9.9" height="9.6"/>
<rect x="741.30" y="472.78" width="9.9" height="9.6"/>
<rect x="760.18" y="472.78" width="9.9" height="9.6"/>
<rect x="779.06" y="472.78" width="9.9" height="9.6"/>
<rect x="797.94" y="472.78" width="9.9" height="9.6"/>
<rect x="816.82" y="472.78" width="9.9" height="9.6"/>
<rect x="609.10" y="491.66" width="9.9" height="9.6"/>
<rect x="627.98" y="491.66" width="9.9" height="9.6"/>
<rect x="646.86" y="491.66" width="9.9" height="9.6"/>
<rect x="665.74" y="491.66" width="9.9" height="9.6"/>
<rect x="684.62" y="491.66" width="9.9" height="9.6"/>
<rect x="741.30" y="491.66" width="9.9" height="9.6"/>
<rect x="760.18" y="491.66" width="9.9" height="9.6"/>
<rect x="779.06" y="491.66" width="9.9" height="9.6"/>
<rect x="797.94" y="491.66" width="9.9" height="9.6"/>
<rect x="816.82" y="491.66" width="9.9" height="9.6"/>
<rect x="609.10" y="510.54" width="9.9" height="9.6"/>
<rect x="627.98" y="510.54" width="9.9" height="9.6"/>
<rect x="646.86" y="510.54" width="9.9" height="9.6"/>
<rect x="665.74" y="510.54" width="9.9" height="9.6"/>
<rect x="684.62" y="510.54" width="9.9" height="9.6"/>
<rect x="741.30" y="510.54" width="9.9" height="9.6"/>
<rect x="760.18" y="510.54" width="9.9" height="9.6"/>
<rect x="779.06" y="510.54" width="9.9" height="9.6"/>
<rect x="797.94" y="510.54" width="9.9" height="9.6"/>
<rect x="816.82" y="510.54" width="9.9" height="9.6"/>
<rect x="609.10" y="529.42" width="9.9" height="9.6"/>
<rect x="627.98" y="529.42" width="9.9" height="9.6"/>
<rect x="646.86" y="529.42" width="9.9" height="9.6"/>
<rect x="665.74" y="529.42" width="9.9" height="9.6"/>
<rect x="684.62" y="529.42" width="9.9" height="9.6"/>
<rect x="741.30" y="529.42" width="9.9" height="9.6"/>
<rect x="760.18" y="529.42" width="9.9" height="9.6"/>
<rect x="779.06" y="529.42" width="9.9" height="9.6"/>
<rect x="797.94" y="529.42" width="9.9" height="9.6"/>
<rect x="816.82" y="529.42" width="9.9" height="9.6"/>
<rect x="609.10" y="548.30" width="9.9" height="9.6"/>
<rect x="627.98" y="548.30" width="9.9" height="9.6"/>
<rect x="646.86" y="548.30" width="9.9" height="9.6"/>
<rect x="665.74" y="548.30" width="9.9" height="9.6"/>
<rect x="684.62" y="548.30" width="9.9" height="9.6"/>
<rect x="741.30" y="548.30" width="9.9" height="9.6"/>
<rect x="760.18" y="548.30" width="9.9" height="9.6"/>
<rect x="779.06" y="548.30" width="9.9" height="9.6"/>
<rect x="797.94" y="548.30" width="9.9" height="9.6"/>
<rect x="816.82" y="548.30" width="9.9" height="9.6"/>
<rect x="609.10" y="567.18" width="9.9" height="9.6"/>
<rect x="627.98" y="567.18" width="9.9" height="9.6"/>
<rect x="646.86" y="567.18" width="9.9" height="9.6"/>
<rect x="665.74" y="567.18" width="9.9" height="9.6"/>
<rect x="684.62" y="567.18" width="9.9" height="9.6"/>
<rect x="741.30" y="567.18" width="9.9" height="9.6"/>
<rect x="760.18" y="567.18" width="9.9" height="9.6"/>
<rect x="779.06" y="567.18" width="9.9" height="9.6"/>
<rect x="797.94" y="567.18" width="9.9" height="9.6"/>
<rect x="816.82" y="567.18" width="9.9" height="9.6"/>
<rect x="609.10" y="586.06" width="9.9" height="9.6"/>
<rect x="627.98" y="586.06" width="9.9" height="9.6"/>
<rect x="646.86" y="586.06" width="9.9" height="9.6"/>
<rect x="665.74" y="586.06" width="9.9" height="9.6"/>
<rect x="684.62" y="586.06" width="9.9" height="9.6"/>
<rect x="741.30" y="586.06" width="9.9" height="9.6"/>
<rect x="760.18" y="586.06" width="9.9" height="9.6"/>
<rect x="779.06" y="586.06" width="9.9" height="9.6"/>
<rect x="797.94" y="586.06" width="9.9" height="9.6"/>
<rect x="816.82" y="586.06" width="9.9" height="9.6"/>
<rect x="609.10" y="604.94" width="9.9" height="9.6"/>
<rect x="627.98" y="604.94" width="9.9" height="9.6"/>
<rect x="646.86" y="604.94" width="9.9" height="9.6"/>
<rect x="665.74" y="604.94" width="9.9" height="9.6"/>
<rect x="684.62" y="604.94" width="9.9" height="9.6"/>
<rect x="741.30" y="604.94" width="9.9" height="9.6"/>
<rect x="760.18" y="604.94" width="9.9" height="9.6"/>
<rect x="779.06" y="604.94" width="9.9" height="9.6"/>
<rect x="797.94" y="604.94" width="9.9" height="9.6"/>
<rect x="816.82" y="604.94" width="9.9" height="9.6"/>
<rect x="609.10" y="623.82" width="9.9" height="9.6"/>
<rect x="627.98" y="623.82" width="9.9" height="9.6"/>
<rect x="646.86" y="623.82" width="9.9" height="9.6"/>
<rect x="665.74" y="623.82" width="9.9" height="9.6"/>
<rect x="684.62" y="623.82" width="9.9" height="9.6"/>
<rect x="741.30" y="623.82" width="9.9" height="9.6"/>
<rect x="760.18" y="623.82" width="9.9" height="9.6"/>
<rect x="779.06" y="623.82" width="9.9" height="9.6"/>
<rect x="797.94" y="623.82" width="9.9" height="9.6"/>
<rect x="816.82" y="623.82" width="9.9" height="9.6"/>
<rect x="541.30" y="85.50" width="9.9" height="9.6"/>
<rect x="560.40" y="85.50" width="9.9" height="9.6"/>
<rect x="867.50" y="85.50" width="9.9" height="9.6"/>
<rect x="886.30" y="85.50" width="9.9" height="9.6"/>
<rect x="541.30" y="104.38" width="9.9" height="9.6"/>
<rect x="560.40" y="104.38" width="9.9" height="9.6"/>
<rect x="867.50" y="104.38" width="9.9" height="9.6"/>
<rect x="886.30" y="104.38" width="9.9" height="9.6"/>
<rect x="541.30" y="123.26" width="9.9" height="9.6"/>
<rect x="560.40" y="123.26" width="9.9" height="9.6"/>
<rect x="867.50" y="123.26" width="9.9" height="9.6"/>
<rect x="886.30" y="123.26" width="9.9" height="9.6"/>
<rect x="541.30" y="142.14" width="9.9" height="9.6"/>
<rect x="560.40" y="142.14" width="9.9" height="9.6"/>
<rect x="867.50" y="142.14" width="9.9" height="9.6"/>
<rect x="886.30" y="142.14" width="9.9" height="9.6"/>
<rect x="541.30" y="161.02" width="9.9" height="9.6"/>
<rect x="560.40" y="161.02" width="9.9" height="9.6"/>
<rect x="867.50" y="161.02" width="9.9" height="9.6"/>
<rect x="886.30" y="161.02" width="9.9" height="9.6"/>
<rect x="541.30" y="197.50" width="9.9" height="9.6"/>
<rect x="560.40" y="197.50" width="9.9" height="9.6"/>
<rect x="867.50" y="197.50" width="9.9" height="9.6"/>
<rect x="886.30" y="197.50" width="9.9" height="9.6"/>
<rect x="541.30" y="216.38" width="9.9" height="9.6"/>
<rect x="560.40" y="216.38" width="9.9" height="9.6"/>
<rect x="867.50" y="216.38" width="9.9" height="9.6"/>
<rect x="886.30" y="216.38" width="9.9" height="9.6"/>
<rect x="541.30" y="235.26" width="9.9" height="9.6"/>
<rect x="560.40" y="235.26" width="9.9" height="9.6"/>
<rect x="867.50" y="235.26" width="9.9" height="9.6"/>
<rect x="886.30" y="235.26" width="9.9" height="9.6"/>
<rect x="541.30" y="254.14" width="9.9" height="9.6"/>
<rect x="560.40" y="254.14" width="9.9" height="9.6"/>
<rect x="867.50" y="254.14" width="9.9" height="9.6"/>
<rect x="886.30" y="254.14" width="9.9" height="9.6"/>
<rect x="541.30" y="273.02" width="9.9" height="9.6"/>
<rect x="560.40" y="273.02" width="9.9" height="9.6"/>
<rect x="867.50" y="273.02" width="9.9" height="9.6"/>
<rect x="886.30" y="273.02" width="9.9" height="9.6"/>
<rect x="541.30" y="313.90" width="9.9" height="9.6"/>
<rect x="560.40" y="313.90" width="9.9" height="9.6"/>
<rect x="867.50" y="313.90" width="9.9" height="9.6"/>
<rect x="886.30" y="313.90" width="9.9" height="9.6"/>
<rect x="541.30" y="332.78" width="9.9" height="9.6"/>
<rect x="560.40" y="332.78" width="9.9" height="9.6"/>
<rect x="867.50" y="332.78" width="9.9" height="9.6"/>
<rect x="886.30" y="332.78" width="9.9" height="9.6"/>
<rect x="541.30" y="351.66" width="9.9" height="9.6"/>
<rect x="560.40" y="351.66" width="9.9" height="9.6"/>
<rect x="867.50" y="351.66" width="9.9" height="9.6"/>
<rect x="886.30" y="351.66" width="9.9" height="9.6"/>
<rect x="541.30" y="370.54" width="9.9" height="9.6"/>
<rect x="560.40" y="370.54" width="9.9" height="9.6"/>
<rect x="867.50" y="370.54" width="9.9" height="9.6"/>
<rect x="886.30" y="370.54" width="9.9" height="9.6"/>
<rect x="541.30" y="389.42" width="9.9" height="9.6"/>
<rect x="560.40" y="389.42" width="9.9" height="9.6"/>
<rect x="867.50" y="389.42" width="9.9" height="9.6"/>
<rect x="886.30" y="389.42" width="9.9" height="9.6"/>
<rect x="541.30" y="429.10" width="9.9" height="9.6"/>
<rect x="560.40" y="429.10" width="9.9" height="9.6"/>
<rect x="867.50" y="429.10" width="9.9" height="9.6"/>
<rect x="886.30" y="429.10" width="9.9" height="9.6"/>
<rect x="541.30" y="447.98" width="9.9" height="9.6"/>
<rect x="560.40" y="447.98" width="9.9" height="9.6"/>
<rect x="867.50" y="447.98" width="9.9" height="9.6"/>
<rect x="886.30" y="447.98" width="9.9" height="9.6"/>
<rect x="541.30" y="466.86" width="9.9" height="9.6"/>
<rect x="560.40" y="466.86" width="9.9" height="9.6"/>
<rect x="867.50" y="466.86" width="9.9" height="9.6"/>
<rect x="886.30" y="466.86" width="9.9" height="9.6"/>
<rect x="541.30" y="485.74" width="9.9" height="9.6"/>
<rect x="560.40" y="485.74" width="9.9" height="9.6"/>
<rect x="867.50" y="485.74" width="9.9" height="9.6"/>
<rect x="886.30" y="485.74" width="9.9" height="9.6"/>
<rect x="541.30" y="504.62" width="9.9" height="9.6"/>
<rect x="560.40" y="504.62" width="9.9" height="9.6"/>
<rect x="867.50" y="504.62" width="9.9" height="9.6"/>
<rect x="886.30" y="504.62" width="9.9" height="9.6"/>
<rect x="541.30" y="542.30" width="9.9" height="9.6"/>
<rect x="560.40" y="542.30" width="9.9" height="9.6"/>
<rect x="867.50" y="542.30" width="9.9" height="9.6"/>
<rect x="886.30" y="542.30" width="9.9" height="9.6"/>
<rect x="541.30" y="561.18" width="9.9" height="9.6"/>
<rect x="560.40" y="561.18" width="9.9" height="9.6"/>
<rect x="867.50" y="561.18" width="9.9" height="9.6"/>
<rect x="886.30" y="561.18" width="9.9" height="9.6"/>
<rect x="541.30" y="580.06" width="9.9" height="9.6"/>
<rect x="560.40" y="580.06" width="9.9" height="9.6"/>
<rect x="867.50" y="580.06" width="9.9" height="9.6"/>
<rect x="886.30" y="580.06" width="9.9" height="9.6"/>
<rect x="541.30" y="598.94" width="9.9" height="9.6"/>
<rect x="560.40" y="598.94" width="9.9" height="9.6"/>
<rect x="867.50" y="598.94" width="9.9" height="9.6"/>
<rect x="886.30" y="598.94" width="9.9" height="9.6"/>
<rect x="541.30" y="617.82" width="9.9" height="9.6"/>
<rect x="560.40" y="617.82" width="9.9" height="9.6"/>
<rect x="867.50" y="617.82" width="9.9" height="9.6"/>
<rect x="886.30" y="617.82" width="9.9" height="9.6"/>
</g>
<rect x="727.0" y="62.8" width="38.4" height="75.7" fill="#555555" fill-opacity="0.82" stroke="#4a4a4a" stroke-opacity="0.85" stroke-width="0.9"/>
<rect x="735.3" y="73.3" width="21.8" height="53.2" fill="#555555" stroke="#3a3a3a" stroke-width="0.8"/>
<rect x="740.2" y="74.9" width="12.4" height="12.4" fill="#4a4a4a"/>
<circle cx="746.0" cy="81.1" r="4.9" fill="#b0b0b0" stroke="#262626" stroke-width="1.1"/>
<rect x="740.2" y="93.8" width="12.4" height="12.4" fill="#4a4a4a"/>
<circle cx="746.0" cy="100.0" r="4.9" fill="#b0b0b0" stroke="#262626" stroke-width="1.1"/>
<rect x="740.2" y="112.7" width="12.4" height="12.4" fill="#4a4a4a"/>
<circle cx="746.0" cy="118.9" r="4.9" fill="#b0b0b0" stroke="#262626" stroke-width="1.1"/>
<g font-family="'DejaVu Sans', 'Liberation Sans', sans-serif" font-size="16.4" fill="#000" text-anchor="middle">
<text x="614.7" y="69.6">A</text>
<text x="613.3" y="651.9">A</text>
<text x="633.6" y="69.6">B</text>
<text x="632.2" y="651.9">B</text>
<text x="652.5" y="69.6">C</text>
<text x="651.1" y="651.9">C</text>
<text x="671.2" y="69.6">D</text>
<text x="669.9" y="651.9">D</text>
<text x="690.0" y="69.6">E</text>
<text x="688.7" y="651.9">E</text>
<text x="745.2" y="69.6">F</text>
<text x="745.2" y="651.9">F</text>
<text x="764.8" y="69.6">G</text>
<text x="765.1" y="651.9">G</text>
<text x="784.2" y="69.6">H</text>
<text x="784.3" y="651.9">H</text>
<text x="802.8" y="69.6" font-family="'DejaVu Sans Mono', 'Liberation Mono', monospace">I</text>
<text x="802.8" y="651.9" font-family="'DejaVu Sans Mono', 'Liberation Mono', monospace">I</text>
<text x="822.7" y="69.6" font-family="'DejaVu Sans Mono', 'Liberation Mono', monospace">J</text>
<text x="821.7" y="651.9" font-family="'DejaVu Sans Mono', 'Liberation Mono', monospace">J</text>
<text x="594.1" y="87.1">1</text>
<text x="840.0" y="87.1">1</text>
<text x="594.1" y="106.0">2</text>
<text x="840.0" y="106.0">2</text>
<text x="594.1" y="124.9">3</text>
<text x="840.0" y="124.9">3</text>
<text x="594.1" y="143.7">4</text>
<text x="840.0" y="143.7">4</text>
<text x="594.1" y="162.6">5</text>
<text x="840.0" y="162.6">5</text>
<text x="594.1" y="181.5">6</text>
<text x="840.0" y="181.5">6</text>
<text x="594.1" y="200.4">7</text>
<text x="840.0" y="200.4">7</text>
<text x="594.1" y="219.3">8</text>
<text x="840.0" y="219.3">8</text>
<text x="594.1" y="238.1">9</text>
<text x="840.0" y="238.1">9</text>
<text x="594.7" y="257.0">10</text>
<text x="840.8" y="257.0">10</text>
<text x="594.7" y="275.9">11</text>
<text x="840.8" y="275.9">11</text>
<text x="594.7" y="294.8">12</text>
<text x="840.8" y="294.8">12</text>
<text x="594.7" y="313.7">13</text>
<text x="840.8" y="313.7">13</text>
<text x="594.7" y="332.5">14</text>
<text x="840.8" y="332.5">14</text>
<text x="594.7" y="351.4">15</text>
<text x="840.8" y="351.4">15</text>
<text x="594.7" y="370.3">16</text>
<text x="840.8" y="370.3">16</text>
<text x="594.7" y="389.2">17</text>
<text x="840.8" y="389.2">17</text>
<text x="594.7" y="408.1">18</text>
<text x="840.8" y="408.1">18</text>
<text x="594.7" y="426.9">19</text>
<text x="840.8" y="426.9">19</text>
<text x="594.7" y="445.8">20</text>
<text x="840.8" y="445.8">20</text>
<text x="594.7" y="464.7">21</text>
<text x="840.8" y="464.7">21</text>
<text x="594.7" y="483.6">22</text>
<text x="840.8" y="483.6">22</text>
<text x="594.7" y="502.5">23</text>
<text x="840.8" y="502.5">23</text>
<text x="594.7" y="521.3">24</text>
<text x="840.8" y="521.3">24</text>
<text x="594.7" y="540.2">25</text>
<text x="840.8" y="540.2">25</text>
<text x="594.7" y="559.1">26</text>
<text x="840.8" y="559.1">26</text>
<text x="594.7" y="578.0">27</text>
<text x="840.8" y="578.0">27</text>
<text x="594.7" y="596.9">28</text>
<text x="840.8" y="596.9">28</text>
<text x="594.7" y="615.7">29</text>
<text x="840.8" y="615.7">29</text>
<text x="594.7" y="634.6">30</text>
<text x="840.8" y="634.6">30</text>
</g>
</g>
<g id="components">
<rect x="662.0" y="260.3" width="7.8" height="56.8" fill="#cccccc" stroke="#4d4d4d" stroke-width="1"/>
<rect x="640.0" y="260.3" width="22.2" height="56.8" rx="1.2" fill="#877b58" stroke="#6a6045" stroke-width="0.9"/>
<rect x="645.9" y="263.8" width="12.2" height="12.2" fill="#707070" stroke="#111" stroke-width="1.4"/>
<circle cx="652.0" cy="269.9" r="4.6" fill="#b3b3b3" stroke="#262626" stroke-width="1.1"/>
<rect x="645.9" y="282.7" width="12.2" height="12.2" fill="#707070" stroke="#111" stroke-width="1.4"/>
<circle cx="652.0" cy="288.8" r="4.6" fill="#b3b3b3" stroke="#262626" stroke-width="1.1"/>
<rect x="645.9" y="301.6" width="12.2" height="12.2" fill="#707070" stroke="#111" stroke-width="1.4"/>
<circle cx="652.0" cy="307.7" r="4.6" fill="#b3b3b3" stroke="#262626" stroke-width="1.1"/>
<rect x="662.0" y="392.5" width="7.8" height="56.8" fill="#cccccc" stroke="#4d4d4d" stroke-width="1"/>
<rect x="640.0" y="392.5" width="22.2" height="56.8" rx="1.2" fill="#877b58" stroke="#6a6045" stroke-width="0.9"/>
<rect x="645.9" y="396.0" width="12.2" height="12.2" fill="#707070" stroke="#111" stroke-width="1.4"/>
<circle cx="652.0" cy="402.1" r="4.6" fill="#b3b3b3" stroke="#262626" stroke-width="1.1"/>
<rect x="645.9" y="414.8" width="12.2" height="12.2" fill="#707070" stroke="#111" stroke-width="1.4"/>
<circle cx="652.0" cy="420.9" r="4.6" fill="#b3b3b3" stroke="#262626" stroke-width="1.1"/>
<rect x="645.9" y="433.7" width="12.2" height="12.2" fill="#707070" stroke="#111" stroke-width="1.4"/>
<circle cx="652.0" cy="439.8" r="4.6" fill="#b3b3b3" stroke="#262626" stroke-width="1.1"/>
<line x1="565.5" y1="146.9" x2="614.2" y2="156.6" stroke="#999999" stroke-width="4.8" stroke-linecap="round"/>
<circle cx="565.5" cy="146.9" r="5.0" fill="#999999"/>
<circle cx="614.2" cy="156.6" r="5.0" fill="#999999"/>
<g transform="translate(589.1 151.7) rotate(10.2)">
<rect x="-15.0" y="-5.6" width="30" height="11.2" fill="#ffdd55" stroke="#5e5010" stroke-width="0.9"/>
<rect x="-12.00" y="-5.199999999999999" width="3.00" height="10.399999999999999" fill="#ff0000"/>
<rect x="-6.60" y="-5.199999999999999" width="3.00" height="10.399999999999999" fill="#ff0000"/>
<rect x="-2.10" y="-5.199999999999999" width="2.70" height="10.399999999999999" fill="#802a1a"/>
<rect x="7.20" y="-5.199999999999999" width="2.70" height="10.399999999999999" fill="#d4aa22"/>
</g>
<line x1="546.4" y1="258.9" x2="614.2" y2="269.9" stroke="#999999" stroke-width="4.8" stroke-linecap="round"/>
<circle cx="546.4" cy="258.9" r="5.0" fill="#999999"/>
<circle cx="614.2" cy="269.9" r="5.0" fill="#999999"/>
<g transform="translate(580.2 264.3) rotate(8.0)">
<rect x="-15.0" y="-5.6" width="30" height="11.2" fill="#ffdd55" stroke="#5e5010" stroke-width="0.9"/>
<rect x="-12.60" y="-5.199999999999999" width="4.20" height="10.399999999999999" fill="#ffff00"/>
<rect x="-6.30" y="-5.199999999999999" width="2.40" height="10.399999999999999" fill="#800080"/>
<rect x="-2.40" y="-5.199999999999999" width="2.70" height="10.399999999999999" fill="#ff0000"/>
<rect x="7.80" y="-5.199999999999999" width="2.70" height="10.399999999999999" fill="#d4aa22"/>
</g>
<line x1="565.5" y1="277.8" x2="614.2" y2="288.8" stroke="#999999" stroke-width="4.8" stroke-linecap="round"/>
<circle cx="565.5" cy="277.8" r="5.0" fill="#999999"/>
<circle cx="614.2" cy="288.8" r="5.0" fill="#999999"/>
<g transform="translate(589.6 283.3) rotate(13.0)">
<rect x="-15.3" y="-7.0" width="30.6" height="14.0" fill="#000"/>
<rect x="-14.700000000000001" y="-6.4" width="6.8" height="12.8" fill="#b3b3b3"/>
</g>
<line x1="546.4" y1="375.3" x2="614.2" y2="402.1" stroke="#999999" stroke-width="4.8" stroke-linecap="round"/>
<circle cx="546.4" cy="375.3" r="5.0" fill="#999999"/>
<circle cx="614.2" cy="402.1" r="5.0" fill="#999999"/>
<g transform="translate(580.7 388.7) rotate(22.0)">
<rect x="-15.0" y="-5.6" width="30" height="11.2" fill="#ffdd55" stroke="#5e5010" stroke-width="0.9"/>
<rect x="-12.60" y="-5.199999999999999" width="4.20" height="10.399999999999999" fill="#ffff00"/>
<rect x="-6.30" y="-5.199999999999999" width="2.40" height="10.399999999999999" fill="#800080"/>
<rect x="-2.40" y="-5.199999999999999" width="2.70" height="10.399999999999999" fill="#ff0000"/>
<rect x="7.80" y="-5.199999999999999" width="2.70" height="10.399999999999999" fill="#d4aa22"/>
</g>
<line x1="565.5" y1="394.2" x2="614.2" y2="420.9" stroke="#999999" stroke-width="4.8" stroke-linecap="round"/>
<circle cx="565.5" cy="394.2" r="5.0" fill="#999999"/>
<circle cx="614.2" cy="420.9" r="5.0" fill="#999999"/>
<g transform="translate(588.5 407.5) rotate(27.5)">
<rect x="-15.3" y="-7.0" width="30.6" height="14.0" fill="#000"/>
<rect x="-14.700000000000001" y="-6.4" width="6.8" height="12.8" fill="#b3b3b3"/>
</g>
<line x1="565.5" y1="547.1" x2="614.2" y2="534.2" stroke="#999999" stroke-width="4.8" stroke-linecap="round"/>
<circle cx="565.5" cy="547.1" r="5.0" fill="#999999"/>
<circle cx="614.2" cy="534.2" r="5.0" fill="#999999"/>
<g transform="translate(589.0 540.3) rotate(-15.0)">
<rect x="-15.0" y="-5.6" width="30" height="11.2" fill="#ffdd55" stroke="#5e5010" stroke-width="0.9"/>
<rect x="-12.00" y="-5.199999999999999" width="3.00" height="10.399999999999999" fill="#ff0000"/>
<rect x="-6.60" y="-5.199999999999999" width="3.00" height="10.399999999999999" fill="#ff0000"/>
<rect x="-2.10" y="-5.199999999999999" width="2.70" height="10.399999999999999" fill="#802a1a"/>
<rect x="7.20" y="-5.199999999999999" width="2.70" height="10.399999999999999" fill="#d4aa22"/>
</g>
<path d="M391 154.4H423.7L430 160.70000000000002V195H391Z" fill="#1a1a1a" stroke="#000" stroke-width="0.8"/>
<circle cx="400.8" cy="166.4" r="5.0" fill="#000" stroke="#999" stroke-width="0.7"/>
<circle cx="419.7" cy="166.4" r="5.0" fill="#000" stroke="#999" stroke-width="0.7"/>
<circle cx="400.8" cy="185.2" r="5.0" fill="#000" stroke="#999" stroke-width="0.7"/>
<circle cx="419.7" cy="185.2" r="5.0" fill="#000" stroke="#999" stroke-width="0.7"/>
<path d="M391.5 506.7H430.5V547H397.8L391.5 540.7Z" fill="#1a1a1a" stroke="#000" stroke-width="0.8"/>
<circle cx="401.3" cy="516.5" r="5.0" fill="#000" stroke="#999" stroke-width="0.7"/>
<circle cx="420.4" cy="516.5" r="5.0" fill="#000" stroke="#999" stroke-width="0.7"/>
<circle cx="401.3" cy="535.7" r="5.0" fill="#000" stroke="#999" stroke-width="0.7"/>
<circle cx="420.4" cy="535.7" r="5.0" fill="#000" stroke="#999" stroke-width="0.7"/>
</g>
<g id="wires" fill="none" stroke-width="5" stroke-linejoin="miter">
<path d="M546.4 318.7L614.2 307.7" stroke="#000000" stroke-width="5.2" stroke-linejoin="miter" stroke-linecap="butt"/>
<circle cx="546.4" cy="318.7" r="5.2" fill="#000000" stroke="none"/>
<circle cx="614.2" cy="307.7" r="5.2" fill="#000000" stroke="none"/>
<path d="M546.4 452.8L614.2 439.8" stroke="#000000" stroke-width="5.2" stroke-linejoin="miter" stroke-linecap="butt"/>
<circle cx="546.4" cy="452.8" r="5.2" fill="#000000" stroke="none"/>
<circle cx="614.2" cy="439.8" r="5.2" fill="#000000" stroke="none"/>
<path d="M821.9 100.0L891.4 109.2" stroke="#ff0000" stroke-width="5.6" stroke-linejoin="miter" stroke-linecap="butt"/>
<circle cx="821.9" cy="100.0" r="5.2" fill="#ff0000" stroke="none"/>
<circle cx="891.4" cy="109.2" r="5.2" fill="#ff0000" stroke="none"/>
<path d="M400.8 185.2V213.2H633.1V156.6" stroke="#0000ff" stroke-width="5.5" stroke-linejoin="miter" stroke-linecap="butt"/>
<circle cx="400.8" cy="185.2" r="5" fill="#0000ff" stroke="none"/>
<circle cx="633.1" cy="156.6" r="5" fill="#0000ff" stroke="none"/>
<path d="M419.7 185.2V232.3H633.1V269.9" stroke="#008000" stroke-width="5.5" stroke-linejoin="miter" stroke-linecap="butt"/>
<circle cx="419.7" cy="185.2" r="5" fill="#008000" stroke="none"/>
<circle cx="633.1" cy="269.9" r="5" fill="#008000" stroke="none"/>
<path d="M400.8 166.4V89.8H546.4" stroke="#000000" stroke-width="5.2" stroke-linejoin="round" stroke-linecap="butt"/>
<circle cx="400.8" cy="166.4" r="5" fill="#000000" stroke="none"/>
<circle cx="546.4" cy="90.3" r="5" fill="#000000" stroke="none"/>
<path d="M419.7 166.4V109.2H565.5" stroke="#ff0000" stroke-width="5.2" stroke-linejoin="miter" stroke-linecap="butt"/>
<circle cx="419.7" cy="166.4" r="5" fill="#ff0000" stroke="none"/>
<circle cx="565.5" cy="109.2" r="5" fill="#ff0000" stroke="none"/>
<path d="M401.3 516.5V477.5H633.1V402.1" stroke="#008000" stroke-width="5.5" stroke-linejoin="miter" stroke-linecap="butt"/>
<circle cx="401.3" cy="516.5" r="5" fill="#008000" stroke="none"/>
<circle cx="633.1" cy="402.1" r="5" fill="#008000" stroke="none"/>
<path d="M420.4 516.5V496.3H633.1V534.2" stroke="#0000ff" stroke-width="5.5" stroke-linejoin="miter" stroke-linecap="butt"/>
<circle cx="420.4" cy="516.5" r="5" fill="#0000ff" stroke="none"/>
<circle cx="633.1" cy="534.2" r="5" fill="#0000ff" stroke="none"/>
<path d="M401.3 535.7V602.8H565.5" stroke="#ff0000" stroke-width="5.2" stroke-linejoin="miter" stroke-linecap="butt"/>
<circle cx="401.3" cy="535.7" r="5" fill="#ff0000" stroke="none"/>
<circle cx="565.5" cy="603.7" r="5" fill="#ff0000" stroke="none"/>
<path d="M420.4 535.7V584.5H546.4" stroke="#000000" stroke-width="5.2" stroke-linejoin="miter" stroke-linecap="butt"/>
<circle cx="420.4" cy="535.7" r="5" fill="#000000" stroke="none"/>
<circle cx="546.4" cy="584.9" r="5" fill="#000000" stroke="none"/>
<path d="M546.4 622.6V677.6H872.6V622.6" stroke="#000000" stroke-width="5.2" stroke-linejoin="miter" stroke-linecap="butt"/>
<circle cx="546.4" cy="622.6" r="5" fill="#000000" stroke="none"/>
<circle cx="872.6" cy="622.6" r="5" fill="#000000" stroke="none"/>
<path d="M565.5 622.6V686.2H891.4V622.6" stroke="#ff0000" stroke-width="5.2" stroke-linejoin="miter" stroke-linecap="butt"/>
<circle cx="565.5" cy="622.6" r="5" fill="#ff0000" stroke="none"/>
<circle cx="891.4" cy="622.6" r="5" fill="#ff0000" stroke="none"/>
<path d="M280.0 113.3C291.4 110.9 302.8 109.3 314.1 108.2C325.5 107.2 336.9 106.7 348.3 106.7C359.7 106.7 371.1 107.2 382.4 107.9C393.8 108.6 405.2 109.5 416.6 110.7C428.0 112.0 439.4 113.6 450.8 115.8C462.1 118.0 473.5 120.8 484.9 124.5C496.3 128.2 507.7 132.8 519.0 138.5C530.4 144.3 541.8 151.2 553.2 159.5C564.6 167.8 576.0 177.4 587.3 187.7C598.7 198.1 610.1 209.2 621.5 220.6C632.9 232.1 644.3 243.8 655.6 255.3C667.0 266.8 678.4 278.2 689.8 288.8" stroke="#000000" stroke-width="5.7" stroke-linejoin="round" stroke-linecap="butt"/>
<circle cx="689.7" cy="288.8" r="5.0" fill="#000000" stroke="none"/>
<path d="M280.0 591.6C291.4 592.6 302.8 593.1 314.1 593.2C325.5 593.4 336.9 593.1 348.3 592.6C359.7 592.1 371.1 591.3 382.4 590.4C393.8 589.4 405.2 588.3 416.6 587.0C428.0 585.7 439.4 584.1 450.8 582.1C462.1 580.0 473.5 577.5 484.9 574.3C496.3 571.0 507.7 567.1 519.0 562.2C530.4 557.3 541.8 551.5 553.2 544.5C564.6 537.4 576.0 529.1 587.3 519.7C598.7 510.2 610.1 499.6 621.5 488.5C632.9 477.3 644.3 465.7 655.6 454.2C667.0 442.7 678.4 431.4 689.8 421.0" stroke="#000000" stroke-width="5.7" stroke-linejoin="round" stroke-linecap="butt"/>
<circle cx="689.7" cy="420.9" r="5.0" fill="#000000" stroke="none"/>
<path d="M278.0 55.5C295.0 47.6 312.1 41.1 329.1 35.7C346.2 30.2 363.2 25.8 380.2 22.0C397.3 18.3 414.3 15.2 431.4 12.6C448.4 9.9 465.4 7.7 482.5 6.1C499.5 4.5 516.5 3.5 533.6 3.3C550.6 3.1 567.7 3.7 584.7 5.2C601.7 6.7 618.8 9.1 635.8 12.3C652.9 15.5 669.9 19.5 686.9 24.2C704.0 28.8 721.0 34.0 738.0 39.5C755.1 45.0 772.1 50.8 789.2 56.6C806.2 62.4 823.2 68.2 840.3 73.9C857.3 79.6 874.4 85.1 891.4 90.3" stroke="#ff0000" stroke-width="6.0" stroke-linejoin="round" stroke-linecap="butt"/>
<circle cx="278.0" cy="55.5" r="5.0" fill="#ff0000" stroke="none"/>
<circle cx="891.4" cy="90.3" r="5.0" fill="#ff0000" stroke="none"/>
<path d="M278.0 646.6C295.0 648.5 312.1 650.0 329.1 651.3C346.2 652.5 363.2 653.4 380.2 654.0C397.3 654.6 414.3 654.9 431.4 654.9C448.4 654.9 465.4 654.5 482.5 653.9C499.5 653.3 516.5 652.5 533.6 651.3C550.6 650.1 567.7 648.7 584.7 647.0C601.7 645.3 618.8 643.3 635.8 641.1C652.9 639.0 669.9 636.6 686.9 634.1C704.0 631.6 721.0 629.0 738.0 626.4C755.1 623.8 772.1 621.1 789.2 618.5C806.2 615.8 823.2 613.2 840.3 610.7C857.3 608.2 874.4 605.9 891.4 603.7" stroke="#ff0000" stroke-width="5.8" stroke-linejoin="round" stroke-linecap="butt"/>
<circle cx="278.0" cy="646.6" r="5.0" fill="#ff0000" stroke="none"/>
<circle cx="891.4" cy="603.7" r="5.0" fill="#ff0000" stroke="none"/>
</g>
<g id="pinrings" fill="none" stroke="#8c8c8c" stroke-width="0.6" stroke-opacity="0.8">
<circle cx="400.8" cy="166.4" r="5.0"/>
<circle cx="419.7" cy="166.4" r="5.0"/>
<circle cx="400.8" cy="185.2" r="5.0"/>
<circle cx="419.7" cy="185.2" r="5.0"/>
<circle cx="401.3" cy="516.5" r="5.0"/>
<circle cx="420.4" cy="516.5" r="5.0"/>
<circle cx="401.3" cy="535.7" r="5.0"/>
<circle cx="420.4" cy="535.7" r="5.0"/>
</g>
</svg>
</body>
</html>
